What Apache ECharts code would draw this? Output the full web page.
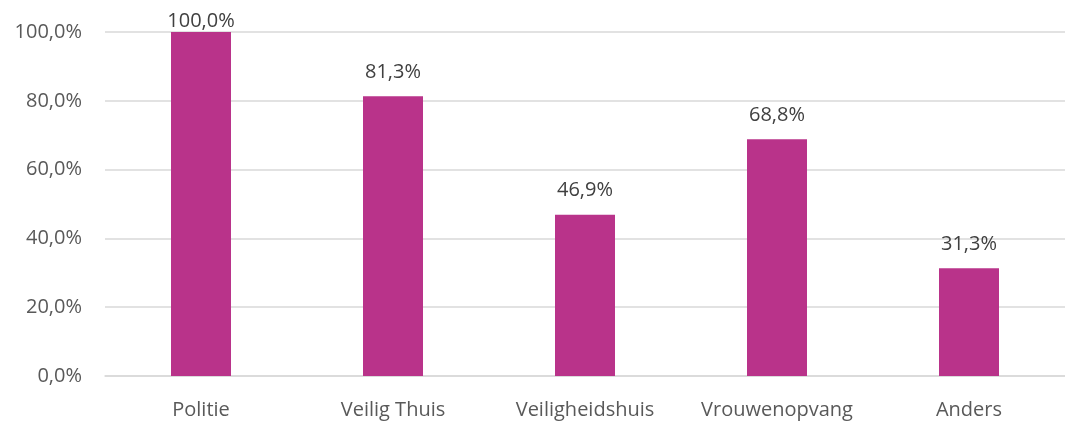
<!DOCTYPE html>
<html>
<head>
<meta charset="utf-8">
<script src="https://cdn.jsdelivr.net/npm/echarts@6/dist/echarts.min.js"></script>
<style>
  html, body { margin: 0; padding: 0; background: #fff; }
  #chart { width: 1065px; height: 423px; }
</style>
</head>
<body>
<div id="chart"></div>
<script>
// categories and values (percent)
var categories = ['Politie', 'Veilig Thuis', 'Veiligheidshuis', 'Vrouwenopvang', 'Anders'];
var values = [100.0, 81.3, 46.9, 68.8, 31.3];

function pct(v) {
  return v.toFixed(1).replace('.', ',') + '%';
}

var chart = echarts.init(document.getElementById('chart'));

// the top label sits tight to the bar, like Excel clamps it inside the chart
var barData = values.map(function (v) {
  if (v >= 100) return { value: v, label: { distance: 1 } };
  return v;
});

var option = {
  backgroundColor: '#ffffff',
  animation: false,
  grid: {
    left: 105,
    right: 0,
    top: 32,
    bottom: 47
  },
  xAxis: {
    type: 'category',
    data: categories,
    axisTick: { show: false },
    axisLine: { lineStyle: { color: '#d9d9d9', width: 1.5 } },
    axisLabel: {
      interval: 0,
      color: '#595959',
      fontSize: 20,
      fontFamily: 'Open Sans',
      margin: 24
    }
  },
  yAxis: {
    type: 'value',
    min: 0,
    max: 100,
    interval: 20,
    axisLine: { show: false },
    axisTick: { show: false },
    splitLine: { lineStyle: { color: '#d9d9d9', width: 1.5 } },
    axisLabel: {
      color: '#595959',
      fontSize: 20,
      fontFamily: 'Open Sans',
      margin: 23,
      formatter: function (v) { return pct(v); }
    }
  },
  series: [{
    type: 'bar',
    data: barData,
    barWidth: 60,
    itemStyle: { color: '#B9338A' },
    label: {
      show: true,
      position: 'top',
      distance: 14,
      color: '#404040',
      fontSize: 20,
      fontFamily: 'Open Sans',
      formatter: function (p) { return pct(p.value); }
    }
  }]
};

chart.setOption(option);
</script>
</body>
</html>
